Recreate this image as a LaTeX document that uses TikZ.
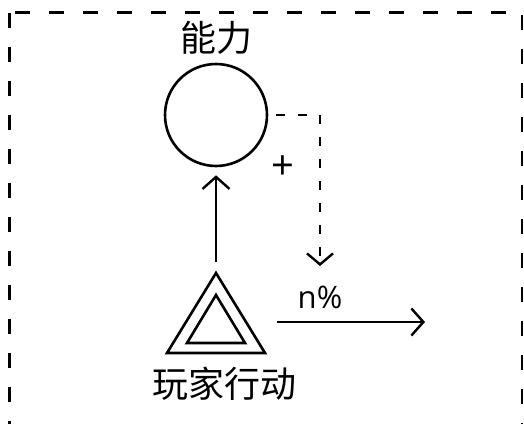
\documentclass[tikz,border=0pt]{standalone}
\usepackage{fontspec}
\setmainfont{Open Sans}
\newfontfamily\cjk{Noto Sans CJK SC}
\usetikzlibrary{arrows.meta}
\tikzset{
  frameline/.style={line width=2.2pt, dash pattern=on 15pt off 19pt},
  shape line/.style={line width=2.6pt},
  conn/.style={line width=2.4pt, -{Straight Barb[length=12pt,width=27pt,line width=2.4pt]}},
  dconn/.style={line width=2.6pt, dash pattern=on 9pt off 13pt, -{Straight Barb[length=11pt,width=26pt,line width=2.4pt]}},
  cjklabel/.style={font=\cjk\fontsize{36}{40}\selectfont, inner sep=0pt},
  latlabel/.style={inner sep=0pt},
}
\begin{document}
\begin{tikzpicture}[x=1pt,y=-1pt]
\useasboundingbox (0,0) rectangle (524,423);
\clip (0,0) rectangle (524,423);
\draw[frameline] (9.5,12.5) rectangle (522,445);
% ability circle
\node[draw, circle, shape line, minimum size=102pt, inner sep=0pt] (cap) at (216,115) {};
\node[cjklabel] (caplabel) at (216,38) {能力};
% player action triangle
\coordinate (tritop) at (216,273);
\draw[shape line, line join=miter] (tritop) -- (265,353) -- (167,353) -- cycle;
\draw[shape line, line join=miter] (216,295) -- (245,343) -- (187,343) -- cycle;
\node[cjklabel] (actlabel) at (224,384) {玩家行动};
% connectors
\draw[conn, shorten <=11pt, shorten >=8pt] (tritop) -- (cap.south);
\coordinate (dtip) at (320,266);
\draw[dconn, shorten <=8pt] (cap.east) -| (dtip);
\node[latlabel, font=\fontsize{40}{44}\selectfont] (plus) at (283,168) {+};
\coordinate (outstart) at (277,322);
\coordinate (outend) at (425,322);
\draw[conn] (outstart) -- (outend);
\node[latlabel, font=\fontsize{31}{34}\selectfont] (pct) at (320,297) {n\%};
\end{tikzpicture}
\end{document}
